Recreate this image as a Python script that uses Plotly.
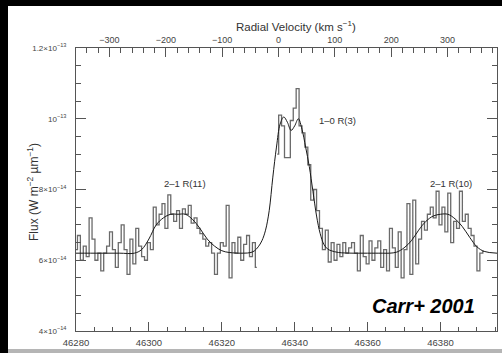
import numpy as np
import plotly.graph_objects as go

# ---------------- data (flux in units of 1e-14 W m^-2 um^-1) ----------------
step = 0.8
segA_start = 46280.0
segA_flux = [6.3, 6.7, 6.0, 6.4, 6.1, 7.2, 6.6, 6.0, 6.2, 5.7,
             6.2, 6.4, 6.8, 6.3, 5.8, 6.5, 7.0, 6.3, 5.6, 6.6,
             5.9, 6.9, 6.4, 6.1, 6.0, 6.5, 6.3, 7.5, 7.0, 7.3,
             7.6, 6.9, 7.85, 7.3, 7.1, 7.4, 6.9, 7.45, 7.3, 7.55,
             7.05, 7.2, 6.9, 6.75, 6.6, 6.4, 6.5, 6.2, 5.6, 6.2,
             6.5, 6.4, 7.55, 5.5, 6.5, 6.2, 6.65, 6.0, 6.45, 6.7,
             6.1, 6.5, 5.8]
segB_start = 46335.2
segB_flux = [9.0, 10.1, 9.8, 8.9, 8.9, 9.95, 10.3, 10.85, 9.8, 9.6,
             9.2, 8.7, 7.7, 8.0, 7.4, 6.9, 6.3, 6.85, 5.95, 6.5,
             6.0, 6.45, 6.1, 6.5, 6.2, 6.35,
             6.5, 6.2, 5.7, 6.7, 6.1, 5.9, 6.55, 6.0, 6.35, 6.55,
             5.8, 6.3, 5.7, 6.9, 6.35, 5.8, 6.8, 5.5, 6.3, 7.6,
             5.6, 7.7, 5.9, 6.6, 7.1, 6.85, 7.3, 7.5, 7.2, 7.95,
             7.0, 7.5, 6.8, 7.9, 6.5, 7.1, 6.9, 7.95, 7.1, 7.3,
             6.9, 6.7, 6.4, 5.7, 6.2, 6.25]

model_wave = [46280, 46284, 46288, 46292, 46296, 46298, 46300, 46302, 46304,
              46306, 46308, 46310, 46312, 46314, 46316, 46318, 46320, 46322,
              46326, 46328, 46329, 46330, 46331, 46332, 46333, 46334, 46335,
              46336, 46337, 46338, 46339, 46340, 46341, 46342, 46343, 46344,
              46345, 46346, 46347, 46348, 46349, 46350, 46352, 46356, 46360,
              46364, 46366, 46368, 46370, 46372, 46374, 46376, 46378, 46380,
              46382, 46384, 46386, 46388, 46390, 46392, 46395.5]
model_flux = [6.2, 6.2, 6.2, 6.2, 6.2, 6.3, 6.6, 7.0, 7.2,
              7.3, 7.3, 7.3, 7.15, 6.9, 6.6, 6.4, 6.27, 6.22,
              6.2, 6.22, 6.27, 6.38, 6.55, 6.85, 7.4, 8.35, 9.2,
              9.85, 10.05, 9.9, 9.67, 9.8, 10.0, 9.7, 9.2, 8.65,
              7.95, 7.25, 6.75, 6.45, 6.32, 6.27, 6.22, 6.2, 6.2,
              6.2, 6.2, 6.23, 6.35, 6.55, 6.85, 7.1, 7.25, 7.3,
              7.3, 7.17, 6.95, 6.65, 6.38, 6.25, 6.2]

x_range = [46280, 46395.5]
y_range = [4, 12]
y_tickvals = [4, 6, 8, 10, 12]
y_ticktext = ["4×10<sup>−14</sup>", "6×10<sup>−14</sup>", "8×10<sup>−14</sup>",
              "10<sup>−13</sup>", "1.2×10<sup>−13</sup>"]
lambda0 = 46335.55
c_kms = 299792.458
v_range = [(w - lambda0) / lambda0 * c_kms for w in x_range]

waveA = segA_start + step * np.arange(len(segA_flux))
waveB = segB_start + step * np.arange(len(segB_flux))

FONT = "Liberation Sans, Arial, sans-serif"
AX = "#555555"

fig = go.Figure()
for w, f in ((waveA, segA_flux), (waveB, segB_flux)):
    fig.add_trace(go.Scatter(x=w, y=f, mode="lines", line_shape="hvh",
                             line=dict(color="#6a6a6a", width=1.3),
                             showlegend=False, hoverinfo="skip"))
fig.add_trace(go.Scatter(x=model_wave, y=model_flux, mode="lines",
                         line_shape="spline",
                         line=dict(color="#1a1a1a", width=1.0),
                         showlegend=False, hoverinfo="skip"))
fig.add_trace(go.Scatter(x=v_range, y=[None, None], xaxis="x2", mode="lines",
                         showlegend=False, hoverinfo="skip"))

W, H = 502, 353
L, R, T, B = 76, 5, 48, 22
pw, ph = W - L - R, H - T - B


def px(xp):
    return (xp - L) / pw


def py(yp):
    return (H - B - yp) / ph


fig.update_layout(
    width=W, height=H,
    margin=dict(l=L, r=R, t=T, b=B, pad=0),
    paper_bgcolor="white",
    plot_bgcolor="rgba(0,0,0,0)",
    font=dict(family=FONT, color="#333"),
    xaxis=dict(range=x_range, showgrid=False, zeroline=False,
               showline=True, linecolor=AX, linewidth=1, mirror=False,
               ticks="inside", tick0=46280, dtick=20, ticklen=9,
               tickcolor=AX, tickwidth=1, tickformat="d",
               minor=dict(dtick=5, ticks="inside", ticklen=4,
                          tickcolor=AX, tickwidth=1),
               tickfont=dict(size=9.5, color="#444", family=FONT),
               ticklabelstandoff=3),
    xaxis2=dict(range=v_range, overlaying="x", side="top", anchor="y",
                showgrid=False, zeroline=False, showline=True,
                linecolor=AX, linewidth=1,
                ticks="inside", tick0=0, dtick=100, ticklen=9,
                tickcolor=AX, tickwidth=1,
                minor=dict(dtick=20, ticks="inside", ticklen=5,
                           tickcolor=AX, tickwidth=1),
                tickfont=dict(size=9, color="#444", family=FONT),
                ticklabelstandoff=0),
    yaxis=dict(range=y_range, showgrid=False, zeroline=False,
               showline=True, linecolor=AX, linewidth=1, mirror="ticks",
               ticks="inside", tickvals=y_tickvals, ticktext=y_ticktext,
               ticklen=10, tickcolor=AX, tickwidth=1,
               minor=dict(dtick=0.5, ticks="inside", ticklen=5,
                          tickcolor=AX, tickwidth=1),
               tickfont=dict(size=8, color="#444", family=FONT),
               ticklabelstandoff=7),
    shapes=[
        # black frame: top band and left band; grey strip at bottom
        dict(type="rect", xref="paper", yref="paper", layer="above",
             x0=px(0), x1=px(W), y0=py(6), y1=py(0),
             fillcolor="black", line=dict(width=0)),
        dict(type="rect", xref="paper", yref="paper", layer="above",
             x0=px(0), x1=px(8), y0=py(H), y1=py(0),
             fillcolor="black", line=dict(width=0)),
        dict(type="rect", xref="paper", yref="paper", layer="above",
             x0=px(8), x1=px(W), y0=py(H), y1=py(349),
             fillcolor="#b5b5b5", line=dict(width=0)),
    ],
    annotations=[
        dict(text="Radial Velocity (km s<sup>−1</sup>)", xref="paper", yref="paper",
             x=px(296), y=py(17), showarrow=False,
             font=dict(size=11.5, color="#333", family=FONT)),
        dict(text="Flux (W m<sup>−2</sup> µm<sup>−1</sup>)", xref="paper", yref="paper",
             x=px(23), y=py(192), showarrow=False, textangle=-90,
             font=dict(size=12, color="#333", family=FONT)),
        dict(text="2–1 R(11)", xref="x", yref="y", x=46310, y=8.17,
             showarrow=False, font=dict(size=9.5, color="#333", family=FONT)),
        dict(text="1–0 R(3)", xref="x", yref="y", x=46351.8, y=9.96,
             showarrow=False, font=dict(size=9.5, color="#333", family=FONT)),
        dict(text="2–1 R(10)", xref="x", yref="y", x=46382.9, y=8.17,
             showarrow=False, font=dict(size=9.5, color="#333", family=FONT)),
        dict(text="<b><i>Carr+ 2001</i></b>", xref="x", yref="y", x=46375.4, y=4.71,
             showarrow=False, font=dict(size=20, color="black", family=FONT)),
    ],
)

fig.write_html("out.html")
